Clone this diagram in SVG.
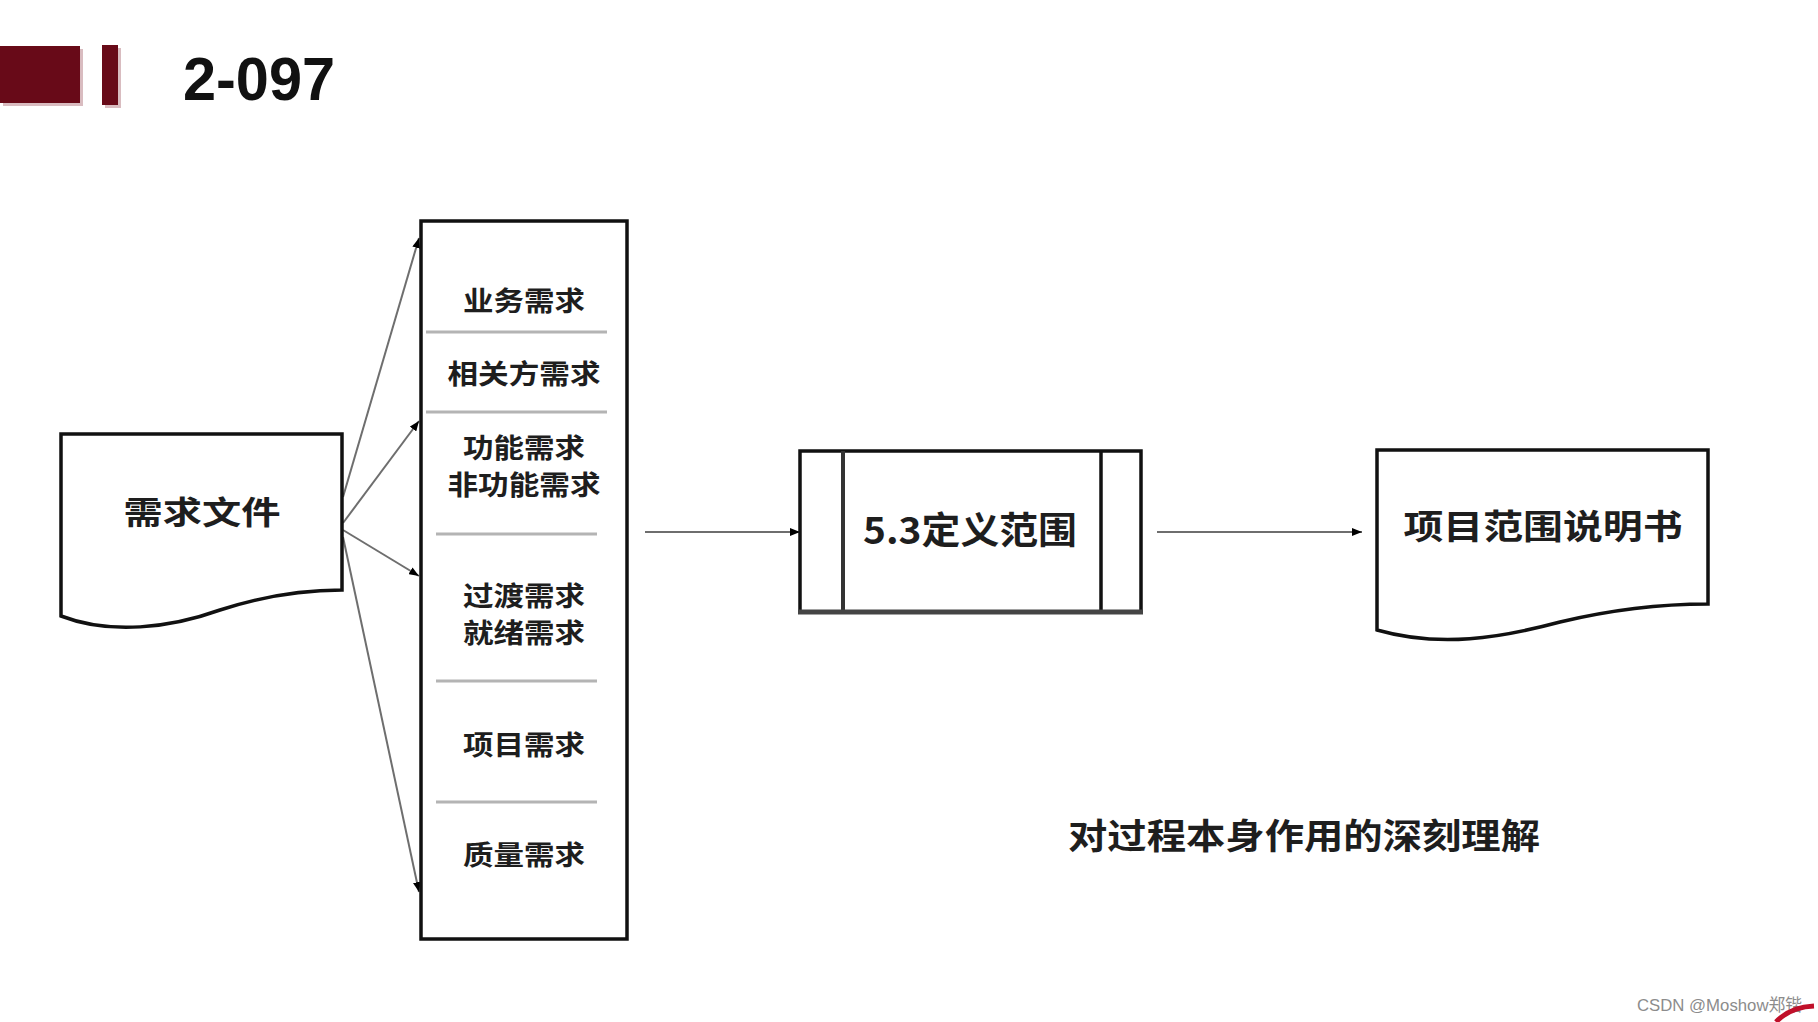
<svg xmlns="http://www.w3.org/2000/svg" width="1818" height="1022" viewBox="0 0 1818 1022">
<style>
.cjk{font-family:"Noto Sans CJK SC","Liberation Sans",sans-serif;font-weight:700;fill:#1e1e1e;text-anchor:middle;dominant-baseline:central}
.box{fill:#fff;stroke:#111;stroke-width:3.5}
.sep{stroke:#b4b4b4;stroke-width:3}
.conn{stroke:#6e6e6e;stroke-width:2;fill:none}
</style>
<defs>
<marker id="ah" markerUnits="userSpaceOnUse" markerWidth="10" markerHeight="8" refX="10" refY="4" orient="auto">
<path d="M0,0 L10,4 L0,8 z" fill="#000"/>
</marker>
</defs>
<rect width="1818" height="1022" fill="#fff"/>

<g id="header">
<rect x="3" y="49" width="80" height="57" fill="#d9bcc0"/>
<rect x="0" y="46" width="80" height="57" fill="#680a18"/>
<rect x="105" y="48" width="16" height="60" fill="#d9bcc0"/>
<rect x="102" y="45" width="16" height="60" fill="#680a18"/>
<text x="183" y="100" font-family="Liberation Sans, Arial, sans-serif" font-weight="700" font-size="62" fill="#111" textLength="152" lengthAdjust="spacingAndGlyphs">2-097</text>
</g>

<g id="connectors">
<path class="conn" d="M343,497 L419,238" marker-end="url(#ah)"/>
<path class="conn" d="M343,523 L419,421" marker-end="url(#ah)"/>
<path class="conn" d="M343,530 L419,576" marker-end="url(#ah)"/>
<path class="conn" d="M343,537 L419,892" marker-end="url(#ah)"/>
<path class="conn" d="M645,532 L800,532" marker-end="url(#ah)"/>
<path class="conn" d="M1157,532 L1362,532" marker-end="url(#ah)"/>
</g>

<g id="node-req-doc">
<path class="box" d="M61,434 L342,434 L342,590 C300,590 260,597 220,610 C170,628 110,635 61,616 Z"/>
<text class="cjk" x="202" y="510" font-size="32" textLength="157" lengthAdjust="spacingAndGlyphs">需求文件</text>
</g>

<g id="node-req-list">
<rect class="box" x="421" y="221" width="206" height="718"/>
<line class="sep" x1="426" y1="332" x2="607" y2="332"/>
<line class="sep" x1="426" y1="412" x2="607" y2="412"/>
<line class="sep" x1="436" y1="534" x2="597" y2="534"/>
<line class="sep" x1="436" y1="681" x2="597" y2="681"/>
<line class="sep" x1="436" y1="802" x2="597" y2="802"/>
<text class="cjk" x="524" y="299" font-size="27" textLength="122" lengthAdjust="spacingAndGlyphs">业务需求</text>
<text class="cjk" x="524" y="372" font-size="27" textLength="153" lengthAdjust="spacingAndGlyphs">相关方需求</text>
<text class="cjk" x="524" y="446" font-size="27" textLength="122" lengthAdjust="spacingAndGlyphs">功能需求</text>
<text class="cjk" x="524" y="483" font-size="27" textLength="153" lengthAdjust="spacingAndGlyphs">非功能需求</text>
<text class="cjk" x="524" y="594" font-size="27" textLength="122" lengthAdjust="spacingAndGlyphs">过渡需求</text>
<text class="cjk" x="524" y="631" font-size="27" textLength="122" lengthAdjust="spacingAndGlyphs">就绪需求</text>
<text class="cjk" x="524" y="743" font-size="27" textLength="122" lengthAdjust="spacingAndGlyphs">项目需求</text>
<text class="cjk" x="524" y="853" font-size="27" textLength="122" lengthAdjust="spacingAndGlyphs">质量需求</text>
</g>

<g id="node-process">
<rect class="box" x="800" y="451" width="341" height="161"/>
<line x1="843" y1="451" x2="843" y2="612" stroke="#333" stroke-width="4"/>
<line x1="1101" y1="451" x2="1101" y2="612" stroke="#111" stroke-width="3.5"/>
<line x1="798" y1="612" x2="1143" y2="612" stroke="#444" stroke-width="5"/>
<text class="cjk" x="970" y="528" font-size="37" font-weight="500" textLength="214" lengthAdjust="spacingAndGlyphs">5.3定义范围</text>
</g>

<g id="node-scope-doc">
<path class="box" d="M1377,450 L1708,450 L1708,604 C1660,604 1610,610 1560,622 C1500,638 1440,648 1377,630 Z"/>
<text class="cjk" x="1543" y="524" font-size="34" textLength="279" lengthAdjust="spacingAndGlyphs">项目范围说明书</text>
</g>

<g id="caption">
<text class="cjk" x="1304" y="833" font-size="35" textLength="472" lengthAdjust="spacingAndGlyphs">对过程本身作用的深刻理解</text>
</g>

<g id="watermark">
<text x="1637" y="1011" font-family="Liberation Sans, Arial, 'Noto Sans CJK SC', sans-serif" font-size="17" fill="#8c8c8c" textLength="165" lengthAdjust="spacingAndGlyphs">CSDN @Moshow郑锴</text>
<path d="M1776,1022 Q1790,1007 1814,1006" stroke="#c0102a" stroke-width="5" fill="none"/>
</g>
</svg>
